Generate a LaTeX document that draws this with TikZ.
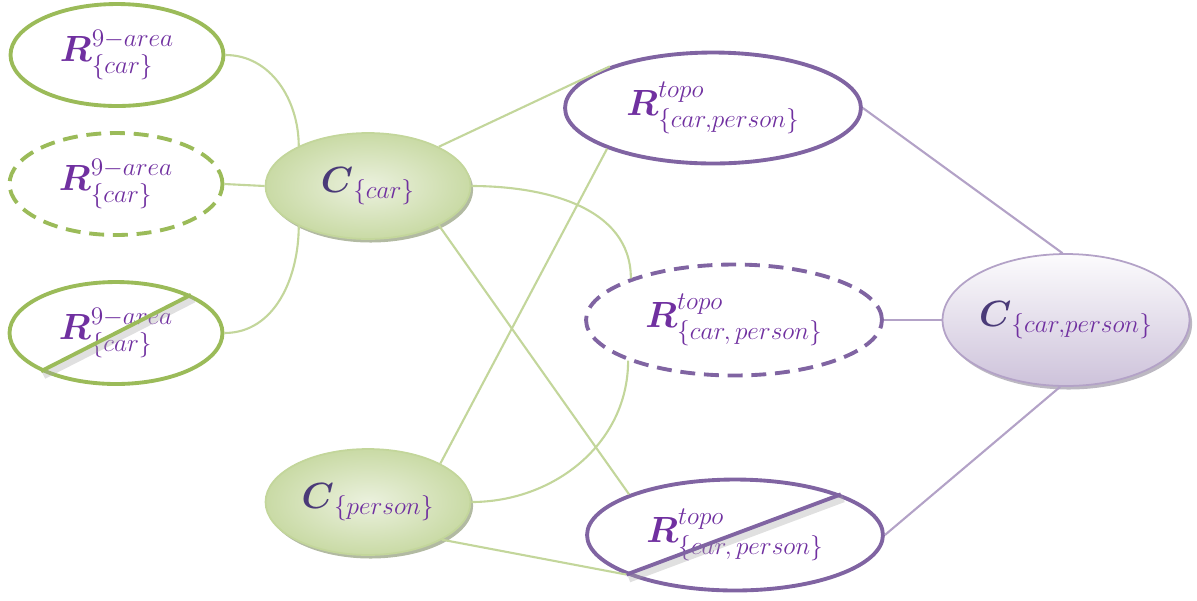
\documentclass[tikz,border=0pt]{standalone}
\usepackage{amsmath}
\usetikzlibrary{shapes.geometric,shadows}

\definecolor{txtpurple}{HTML}{7030A0}
\definecolor{cdark}{HTML}{4A3A78}
\definecolor{greenline}{HTML}{9BBB59}
\definecolor{greenlink}{HTML}{C3D69B}
\definecolor{greenfill}{HTML}{EBF1DE}
\definecolor{purpleline}{HTML}{8064A2}
\definecolor{purplelink}{HTML}{B3A2C7}

\tikzset{
  lbl/.style={font=\fontsize{19.5}{23}\selectfont, text=txtpurple, inner sep=0pt},
  areanode/.style={lbl, ellipse, draw=greenline, line width=2.2pt, minimum width=4.26cm, minimum height=2.04cm},
  toponode/.style={lbl, ellipse, draw=purpleline, line width=2.2pt, minimum width=5.92cm, minimum height=2.22cm},
  carnode/.style={lbl, ellipse, draw=greenlink, line width=1pt, inner color=greenfill, outer color=greenlink!90!white, minimum width=4.1cm, minimum height=2.12cm,
    drop shadow={shadow xshift=1.5pt, shadow yshift=-2pt, fill=black!45!greenline, opacity=.45}},
  pairnode/.style={lbl, ellipse, draw=purplelink, line width=1pt, top color=white!96!purplelink, bottom color=purplelink!65!white, minimum width=4.94cm, minimum height=2.64cm,
    drop shadow={shadow xshift=1.5pt, shadow yshift=-2pt, fill=black!40!purplelink, opacity=.45}},
  dash8/.style={dash pattern=on 8.5pt off 5pt},
  greenlink/.style={draw=greenlink, line width=1.2pt},
  purplelink/.style={draw=purplelink, line width=1.2pt},
  strikeshadow/.style={draw=black!35, line width=4pt, opacity=.35}
}

\begin{document}
\begin{tikzpicture}[x=0.02cm,y=-0.02cm]
\useasboundingbox (0,0) rectangle (1197,600);

\node[areanode] (area1) at (117,55) {$\boldsymbol{R}^{9{-}area}_{\{car\}}$};
\node[areanode,dash8] (area2) at (116,184) {$\boldsymbol{R}^{9{-}area}_{\{car\}}$};
\node[areanode] (area3) at (116,333) {$\boldsymbol{R}^{9{-}area}_{\{car\}}$};

\node[carnode] (car) at (368,186) {$\boldsymbol{\textcolor{cdark}{C}}_{\{car\}}$};
\node[carnode] (person) at (368,502) {$\boldsymbol{\textcolor{cdark}{C}}_{\{person\}}$};

\node[toponode] (topo1) at (713,108) {$\boldsymbol{R}^{topo}_{\{car,person\}}$};
\node[toponode,dash8] (topo2) at (734,320) {$\boldsymbol{R}^{topo}_{\{car,\,person\}}$};
\node[toponode] (topo3) at (735,535) {$\boldsymbol{R}^{topo}_{\{car,\,person\}}$};

\node[pairnode] (pair) at (1066,320) {$\boldsymbol{\textcolor{cdark}{C}}_{\{car,person\}}$};

\draw[strikeshadow] ([shift={(1.5pt,-2.5pt)}]area3.207) -- ([shift={(1.5pt,-2.5pt)}]area3.27);
\draw[draw=greenline, line width=2.2pt] (area3.207) -- (area3.27);
\draw[strikeshadow] ([shift={(1.5pt,-2.5pt)}]topo3.200) -- ([shift={(1.5pt,-2.5pt)}]topo3.21);
\draw[draw=purpleline, line width=2.2pt] (topo3.200) -- (topo3.21);

\draw[greenlink] (area1.east) to[out=0,in=90] (car.150);
\draw[greenlink] (area2.east) -- (car.west);
\draw[greenlink] (area3.east) to[out=0,in=-90] (car.210);

\draw[greenlink] (car.29) -- (topo1.158);
\draw[greenlink] (car.east) to[out=0,in=90] (topo2.158);
\draw[greenlink] (car.-29) -- (topo3.159);
\draw[greenlink] (person.28) -- (topo1.201);
\draw[greenlink] (person.east) to[out=0,in=-90] (topo2.201);
\draw[greenlink] (person.-27) -- (topo3.200);

\draw[purplelink] (topo1.east) -- (pair.93);
\draw[purplelink] (topo2.east) -- (pair.west);
\draw[purplelink] (topo3.east) -- (pair.265);

\end{tikzpicture}
\end{document}
